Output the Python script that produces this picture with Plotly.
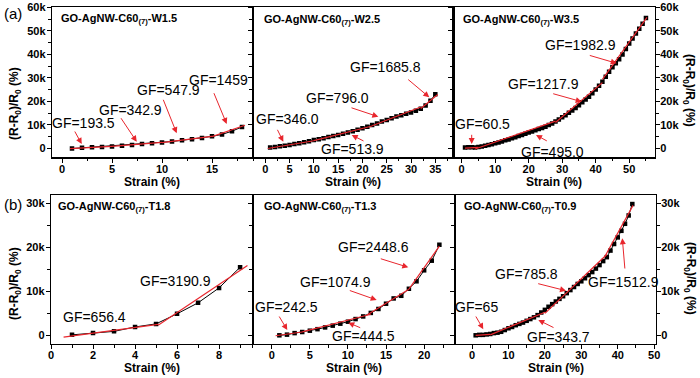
import plotly.graph_objects as go

W, H = 700, 378
FONT = "Arial, Liberation Sans, sans-serif"

# ---------------- data (strain %, response %) ----------------
strain_w15 = list(range(1, 19))
resp_w15 = [-100, 200, 400, 600, 800, 1100, 1400, 1800, 2100, 2500, 2900, 3400,
            3900, 4400, 5100, 5900, 7300, 9100]
fitx_w15 = [[0.8, 5], [5, 10], [10, 15], [15, 18.3]]
fity_w15 = [[-100, 800], [800, 2500], [2400, 5100], [5000, 9800]]
gf_w15 = ["GF=193.5", "GF=342.9", "GF=547.9", "GF=1459"]

strain_w25 = list(range(1, 36))
resp_w25 = [300, 600, 900, 1100, 1400, 1800, 2200, 2600, 3000, 3500, 3900, 4300,
            4800, 5200, 5700, 6200, 6700, 7300, 7900, 8500, 9200, 9900, 10600,
            11400, 12100, 12800, 13500, 14100, 14700, 15300, 16000, 16900, 18200,
            20300, 23000]
fitx_w25 = [[0.5, 10], [10, 22], [22, 32], [32, 35.5]]
fity_w25 = [[-100, 3200], [3300, 9500], [9600, 17600], [17000, 22900]]
gf_w25 = ["GF=346.0", "GF=513.9", "GF=796.0", "GF=1685.8"]

strain_w35 = list(range(1, 56))
resp_w35 = [300, 400, 400, 300, 600, 800, 1100, 1400, 1700, 2100, 2500, 2900,
            3400, 3800, 4300, 4700, 5200, 5700, 6200, 6700, 7200, 7700, 8200,
            8700, 9200, 9900, 10600, 11400, 12300, 13200, 14100, 15100, 16100,
            17200, 18400, 19600, 20800, 22000, 23500, 25100, 26700, 28400, 30500,
            32600, 34500, 36200, 38000, 40000, 42300, 44700, 46800, 48900, 51000,
            53100, 55500]
fitx_w35 = [[1, 5], [4, 28], [28, 42], [42, 55.3]]
fity_w35 = [[100, 350], [-300, 11600], [11000, 28000], [29400, 55800]]
gf_w35 = ["GF=60.5", "GF=495.0", "GF=1217.9", "GF=1982.9"]

strain_t18 = list(range(1, 10))
resp_t18 = [100, 500, 900, 1900, 2600, 4900, 7400, 10800, 15500]
fitx_t18 = [[0.6, 5.1], [5.1, 9.35]]
fity_t18 = [[-400, 2500], [2300, 15900]]
gf_t18 = ["GF=656.4", "GF=3190.9"]

strain_t13 = list(range(1, 23))
resp_t13 = [0, 150, 500, 750, 1050, 1400, 1800, 2200, 2650, 3100, 3700, 4300,
            5100, 6000, 7200, 8400, 9000, 10600, 12300, 14800, 17000, 20600]
fitx_t13 = [[0.5, 4], [4, 13], [12.5, 18], [18, 22]]
fity_t13 = [[-100, 750], [800, 4800], [4600, 10500], [10500, 20300]]
gf_t13 = ["GF=242.5", "GF=444.5", "GF=1074.9", "GF=2448.6"]

strain_t09 = list(range(1, 45))
resp_t09 = [0, 100, 100, 200, 300, 500, 600, 800, 1200, 1600, 1900, 2300, 2600,
            2900, 3300, 3700, 4100, 4600, 5200, 5800, 6500, 7100, 7700, 8300,
            8900, 9600, 10300, 11000, 11700, 12300, 13000, 13700, 14400, 15200,
            16000, 16900, 17800, 19300, 20800, 22300, 23800, 25400, 27300, 29900]
fitx_t09 = [[1, 5], [5, 20], [20, 37], [36.5, 44.2]]
fity_t09 = [[0, 200], [100, 5250], [5000, 18400], [18000, 29600]]
gf_t09 = ["GF=65", "GF=343.7", "GF=785.8", "GF=1512.9"]

titles = ["W1.5", "W2.5", "W3.5", "T1.8", "T1.3", "T0.9"]
yticks_top = [0, 10000, 20000, 30000, 40000, 50000, 60000]
yticks_bot = [0, 10000, 20000, 30000]
ytext_top = ["0", "10k", "20k", "30k", "40k", "50k", "60k"]
ytext_bot = ["0", "10k", "20k", "30k"]

# ---------------- layout geometry (pixels) ----------------
def fx(p):
    return p / W

def fy(p):
    return 1 - p / H

panels = [
    dict(s=strain_w15, r=resp_w15, fx=fitx_w15, fy=fity_w15, gf=gf_w15,
         dom=(52, 252.7), row=0, xr=[-1.0, 19.07], dt=5),
    dict(s=strain_w25, r=resp_w25, fx=fitx_w25, fy=fity_w25, gf=gf_w25,
         dom=(252.7, 453.3), row=0, xr=[-2.59, 38.7], dt=5),
    dict(s=strain_w35, r=resp_w35, fx=fitx_w35, fy=fity_w35, gf=gf_w35,
         dom=(453.3, 655), row=0, xr=[-2.5, 57.7], dt=10),
    dict(s=strain_t18, r=resp_t18, fx=fitx_t18, fy=fity_t18, gf=gf_t18,
         dom=(51, 252.7), row=1, xr=[0, 9.6], dt=2),
    dict(s=strain_t13, r=resp_t13, fx=fitx_t13, fy=fity_t13, gf=gf_t13,
         dom=(252.7, 455), row=1, xr=[-2.5, 24.05], dt=5),
    dict(s=strain_t09, r=resp_t09, fx=fitx_t09, fy=fity_t09, gf=gf_t09,
         dom=(455, 656), row=1, xr=[-4.67, 50.5], dt=10),
]
rows = [dict(d=(7.3, 157.3), yr=[-3840, 60100], tv=yticks_top, tt=ytext_top),
        dict(d=(195, 344), yr=[-1980, 31960], tv=yticks_bot, tt=ytext_bot)]

# GF label centres and arrows (start px, tip px); None = no arrow
gf_pos = [
    [((83.3, 123.3), (74, 130), (81.7, 144)),
     ((130.3, 110), (120, 116.7), (136.7, 141.7)),
     ((168.7, 90), (162.7, 98.3), (176.7, 133.3)),
     ((219, 80), (213.3, 91.7), (226.7, 124))],
    [((287, 118.7), (276.7, 128.3), (283.3, 141.7)),
     ((352, 149.3), (365, 141.7), (351.7, 135)),
     ((337.7, 98.3), (350, 107.3), (378.3, 116.7)),
     ((385, 67), (406.7, 78.3), (429.3, 97.3))],
    [((482, 124), (471.7, 133.3), (471.7, 144)),
     ((552.3, 151.7), (548.3, 141.7), (536, 135)),
     ((543.3, 83.7), (551.7, 93.3), (581.7, 101.7)),
     ((580.3, 45.3), (588.3, 55), (616.7, 63.3))],
    [((95, 316.7), None, None),
     ((175, 280.7), None, None)],
    [((286.7, 307), (278.3, 315), (287.3, 330)),
     ((363.7, 335.7), (361.7, 328.3), (348.3, 322.7)),
     ((335, 281.7), (348.3, 290), (376.7, 300)),
     ((373.3, 247.3), (379.3, 258.3), (408.3, 267.3))],
    [((476, 307), (475, 315), (483.3, 329.3)),
     ((558.3, 337), (555, 328.3), (538.3, 320)),
     ((526.7, 274), (536.7, 283.3), (566, 290.7)),
     ((623.3, 281.7), (625, 270), (622.3, 238.3))],
]
title_pos = [(60, 19), (263.3, 20), (461.7, 20), (57.3, 207), (263.3, 207), (463.3, 207)]

RED = "#e8262d"
fig = go.Figure()
annotations = []
tickfont = dict(family=FONT, size=11, color="black", weight="bold")

layout = dict(template="none", width=W, height=H,
              margin=dict(l=0, r=0, t=0, b=0, pad=0, autoexpand=False),
              paper_bgcolor="white", plot_bgcolor="white", showlegend=False,
              font=dict(family=FONT, color="black"))


def text_ann(x, y, text, size, anchor="center", angle=0):
    return dict(x=fx(x), y=fy(y), xref="paper", yref="paper", xanchor=anchor,
                yanchor="middle", showarrow=False, text=text, textangle=angle,
                borderpad=0, font=dict(family=FONT, size=size, color="black"))


for i, p in enumerate(panels):
    k = i + 1
    xa = "x" if k == 1 else f"x{k}"
    ya = "y" if k == 1 else f"y{k}"
    row = rows[p["row"]]
    fig.add_trace(go.Scatter(x=p["s"], y=p["r"], xaxis=xa, yaxis=ya,
                             mode="lines+markers",
                             line=dict(color="black", width=1),
                             marker=dict(symbol="square", size=4.5, color="black",
                                         line=dict(width=0)),
                             hoverinfo="skip"))
    for sx, sy in zip(p["fx"], p["fy"]):
        fig.add_trace(go.Scatter(x=sx, y=sy, xaxis=xa, yaxis=ya, mode="lines",
                                 line=dict(color=RED, width=1.2), hoverinfo="skip"))
    layout[f"xaxis{'' if k == 1 else k}"] = dict(
        domain=[fx(p["dom"][0]), fx(p["dom"][1])], anchor=ya, range=p["xr"],
        automargin=False, ticklabelstandoff=-3,
        showline=True, linecolor="black", linewidth=1.2, mirror=True,
        ticks="outside", ticklen=4, tickwidth=1, tickcolor="black",
        tickmode="linear", tick0=0, dtick=p["dt"],
        minor=dict(ticks="outside", ticklen=2.5, tickcolor="black", dtick=p["dt"] / 2,
                   showgrid=False),
        showgrid=False, zeroline=False, tickfont=tickfont)
    left_labels = k in (1, 4)
    layout[f"yaxis{'' if k == 1 else k}"] = dict(
        domain=[fy(row["d"][1]), fy(row["d"][0])], anchor=xa, range=row["yr"],
        automargin=False, ticklabelstandoff=-1,
        showline=True, linecolor="black", linewidth=1.2, mirror=True,
        ticks="outside", ticklen=4, tickwidth=1, tickcolor="black",
        tickmode="array", tickvals=row["tv"], ticktext=row["tt"],
        showticklabels=left_labels,
        minor=dict(ticks="outside", ticklen=2.5, tickcolor="black", dtick=5000,
                   tick0=0, showgrid=False),
        showgrid=False, zeroline=False, tickfont=tickfont)
    if k in (3, 6):
        rk = 7 if k == 3 else 8
        layout[f"yaxis{rk}"] = dict(
            overlaying=ya, side="right", anchor=xa, range=row["yr"],
            automargin=False, ticklabelstandoff=-2,
            showline=False, ticks="outside", ticklen=4, tickwidth=1,
            tickcolor="black", tickmode="array", tickvals=row["tv"],
            ticktext=row["tt"],
            minor=dict(ticks="outside", ticklen=2.5, tickcolor="black",
                       dtick=5000, tick0=0, showgrid=False),
            showgrid=False, zeroline=False, tickfont=tickfont)
        fig.add_trace(go.Scatter(x=[0], y=[0], xaxis=xa, yaxis=f"y{rk}",
                                 mode="markers", marker=dict(opacity=0),
                                 hoverinfo="skip"))
    tx, ty = title_pos[i]
    annotations.append(text_ann(tx, ty,
                                f"<b>GO-AgNW-C60<sub>(7)</sub>-{titles[i]}</b>",
                                11, anchor="left"))
    cx = (p["dom"][0] + p["dom"][1]) / 2
    annotations.append(text_ann(cx, 182 if p["row"] == 0 else 368,
                                "<b>Strain (%)</b>", 12))
    for label, (c, st, tip) in zip(p["gf"], gf_pos[i]):
        annotations.append(text_ann(c[0], c[1], label, 14))
        if st is not None:
            annotations.append(dict(
                x=fx(tip[0]), y=fy(tip[1]), xref="paper", yref="paper",
                ax=st[0] - tip[0], ay=st[1] - tip[1], text="", showarrow=True,
                arrowhead=2, arrowsize=1.2, arrowwidth=1, arrowcolor=RED,
                standoff=0, startstandoff=0))

ytitle = "<b>(R-R<sub>0</sub>)/R<sub>0</sub> (%)</b>"
for (xx, yy, ang) in [(15, 104, -90), (15, 284, -90), (689, 90, 90), (690, 278, 90)]:
    annotations.append(text_ann(xx, yy, ytitle, 12, angle=ang))
for lab, yy in [("(a)", 14), ("(b)", 204)]:
    annotations.append(text_ann(3, yy, lab, 15, anchor="left"))

layout["annotations"] = annotations
fig.update_layout(**layout)
fig.write_html(
    "out.html",
    config={"displayModeBar": False, "staticPlot": True},
    post_script="document.body.style.margin='0';"
                "document.body.style.padding='0';"
                "document.body.style.overflow='hidden';"
                "document.documentElement.style.overflow='hidden';")
